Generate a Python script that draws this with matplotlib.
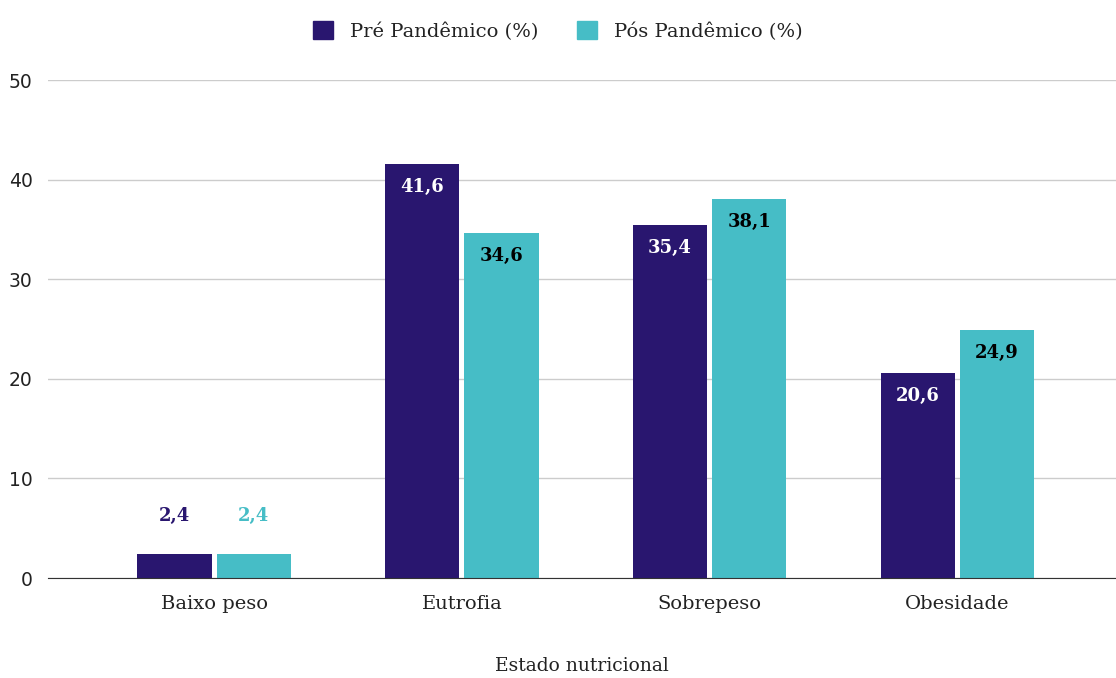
import numpy as np
import matplotlib.pyplot as plt
from matplotlib.patches import Patch

categorias = ["Baixo peso", "Eutrofia", "Sobrepeso", "Obesidade"]
pre = [2.4, 41.6, 35.4, 20.6]
pos = [2.4, 34.6, 38.1, 24.9]
rotulos_pre = ["2,4", "41,6", "35,4", "20,6"]
rotulos_pos = ["2,4", "34,6", "38,1", "24,9"]

cor_pre = "#29166F"
cor_pos = "#46BDC6"
serif = ["DejaVu Serif"]

fig = plt.figure(figsize=(11.16, 6.78), dpi=100)
ax = fig.add_axes([48/1116, 100/678, 1 - 48/1116, 498/678])

x = np.arange(len(categorias))
w = 0.30
gap = 0.01
b1 = ax.bar(x - w/2 - gap, pre, w, color=cor_pre, zorder=3)
b2 = ax.bar(x + w/2 + gap, pos, w, color=cor_pos, zorder=3)

for bars, labs, incol, outcol in [(b1, rotulos_pre, "white", cor_pre), (b2, rotulos_pos, "black", cor_pos)]:
    for r, lab in zip(bars, labs):
        h = r.get_height()
        cx = r.get_x() + r.get_width()/2
        if h > 8:
            ax.annotate(lab, (cx, h), xytext=(0, -23), textcoords="offset pixels",
                        ha="center", va="center", color=incol, fontsize=13, fontweight="bold", family=serif, zorder=4)
        else:
            ax.annotate(lab, (cx, h), xytext=(0, 38), textcoords="offset pixels",
                        ha="center", va="center", color=outcol, fontsize=13, fontweight="bold", family=serif, zorder=4)

ax.set_xlim(-0.67, 3.64)
ax.set_ylim(0, 50)
ax.set_yticks([0, 10, 20, 30, 40, 50])
ax.yaxis.grid(True, color="#cccccc", linewidth=1, zorder=0)
ax.set_axisbelow(True)
for s in ["top", "right", "left"]:
    ax.spines[s].set_visible(False)
ax.spines["bottom"].set_color("#333333")
ax.spines["bottom"].set_zorder(5)
ax.tick_params(axis="y", length=0, pad=11, labelsize=13.5, labelcolor="#222222")
ax.tick_params(axis="x", length=0, pad=12)
ax.set_xticks(x)
ax.set_xticklabels(categorias, fontsize=14, family=serif, color="#222222")
ax.set_xlabel("Estado nutricional", fontsize=13.5, family=serif, color="#222222", labelpad=32)

handles = [Patch(color=cor_pre, label="Pré Pandêmico (%)"), Patch(color=cor_pos, label="Pós Pandêmico (%)")]
fig.legend(handles=handles, loc="upper center", bbox_to_anchor=(0.5, 1.0), ncol=2, frameon=False,
           prop={"family": serif, "size": 14}, handlelength=1.0, handleheight=1.0, columnspacing=2.0,
           borderaxespad=0.7, handletextpad=0.9, labelcolor="#222222")

fig.savefig("out.png", dpi=100)
